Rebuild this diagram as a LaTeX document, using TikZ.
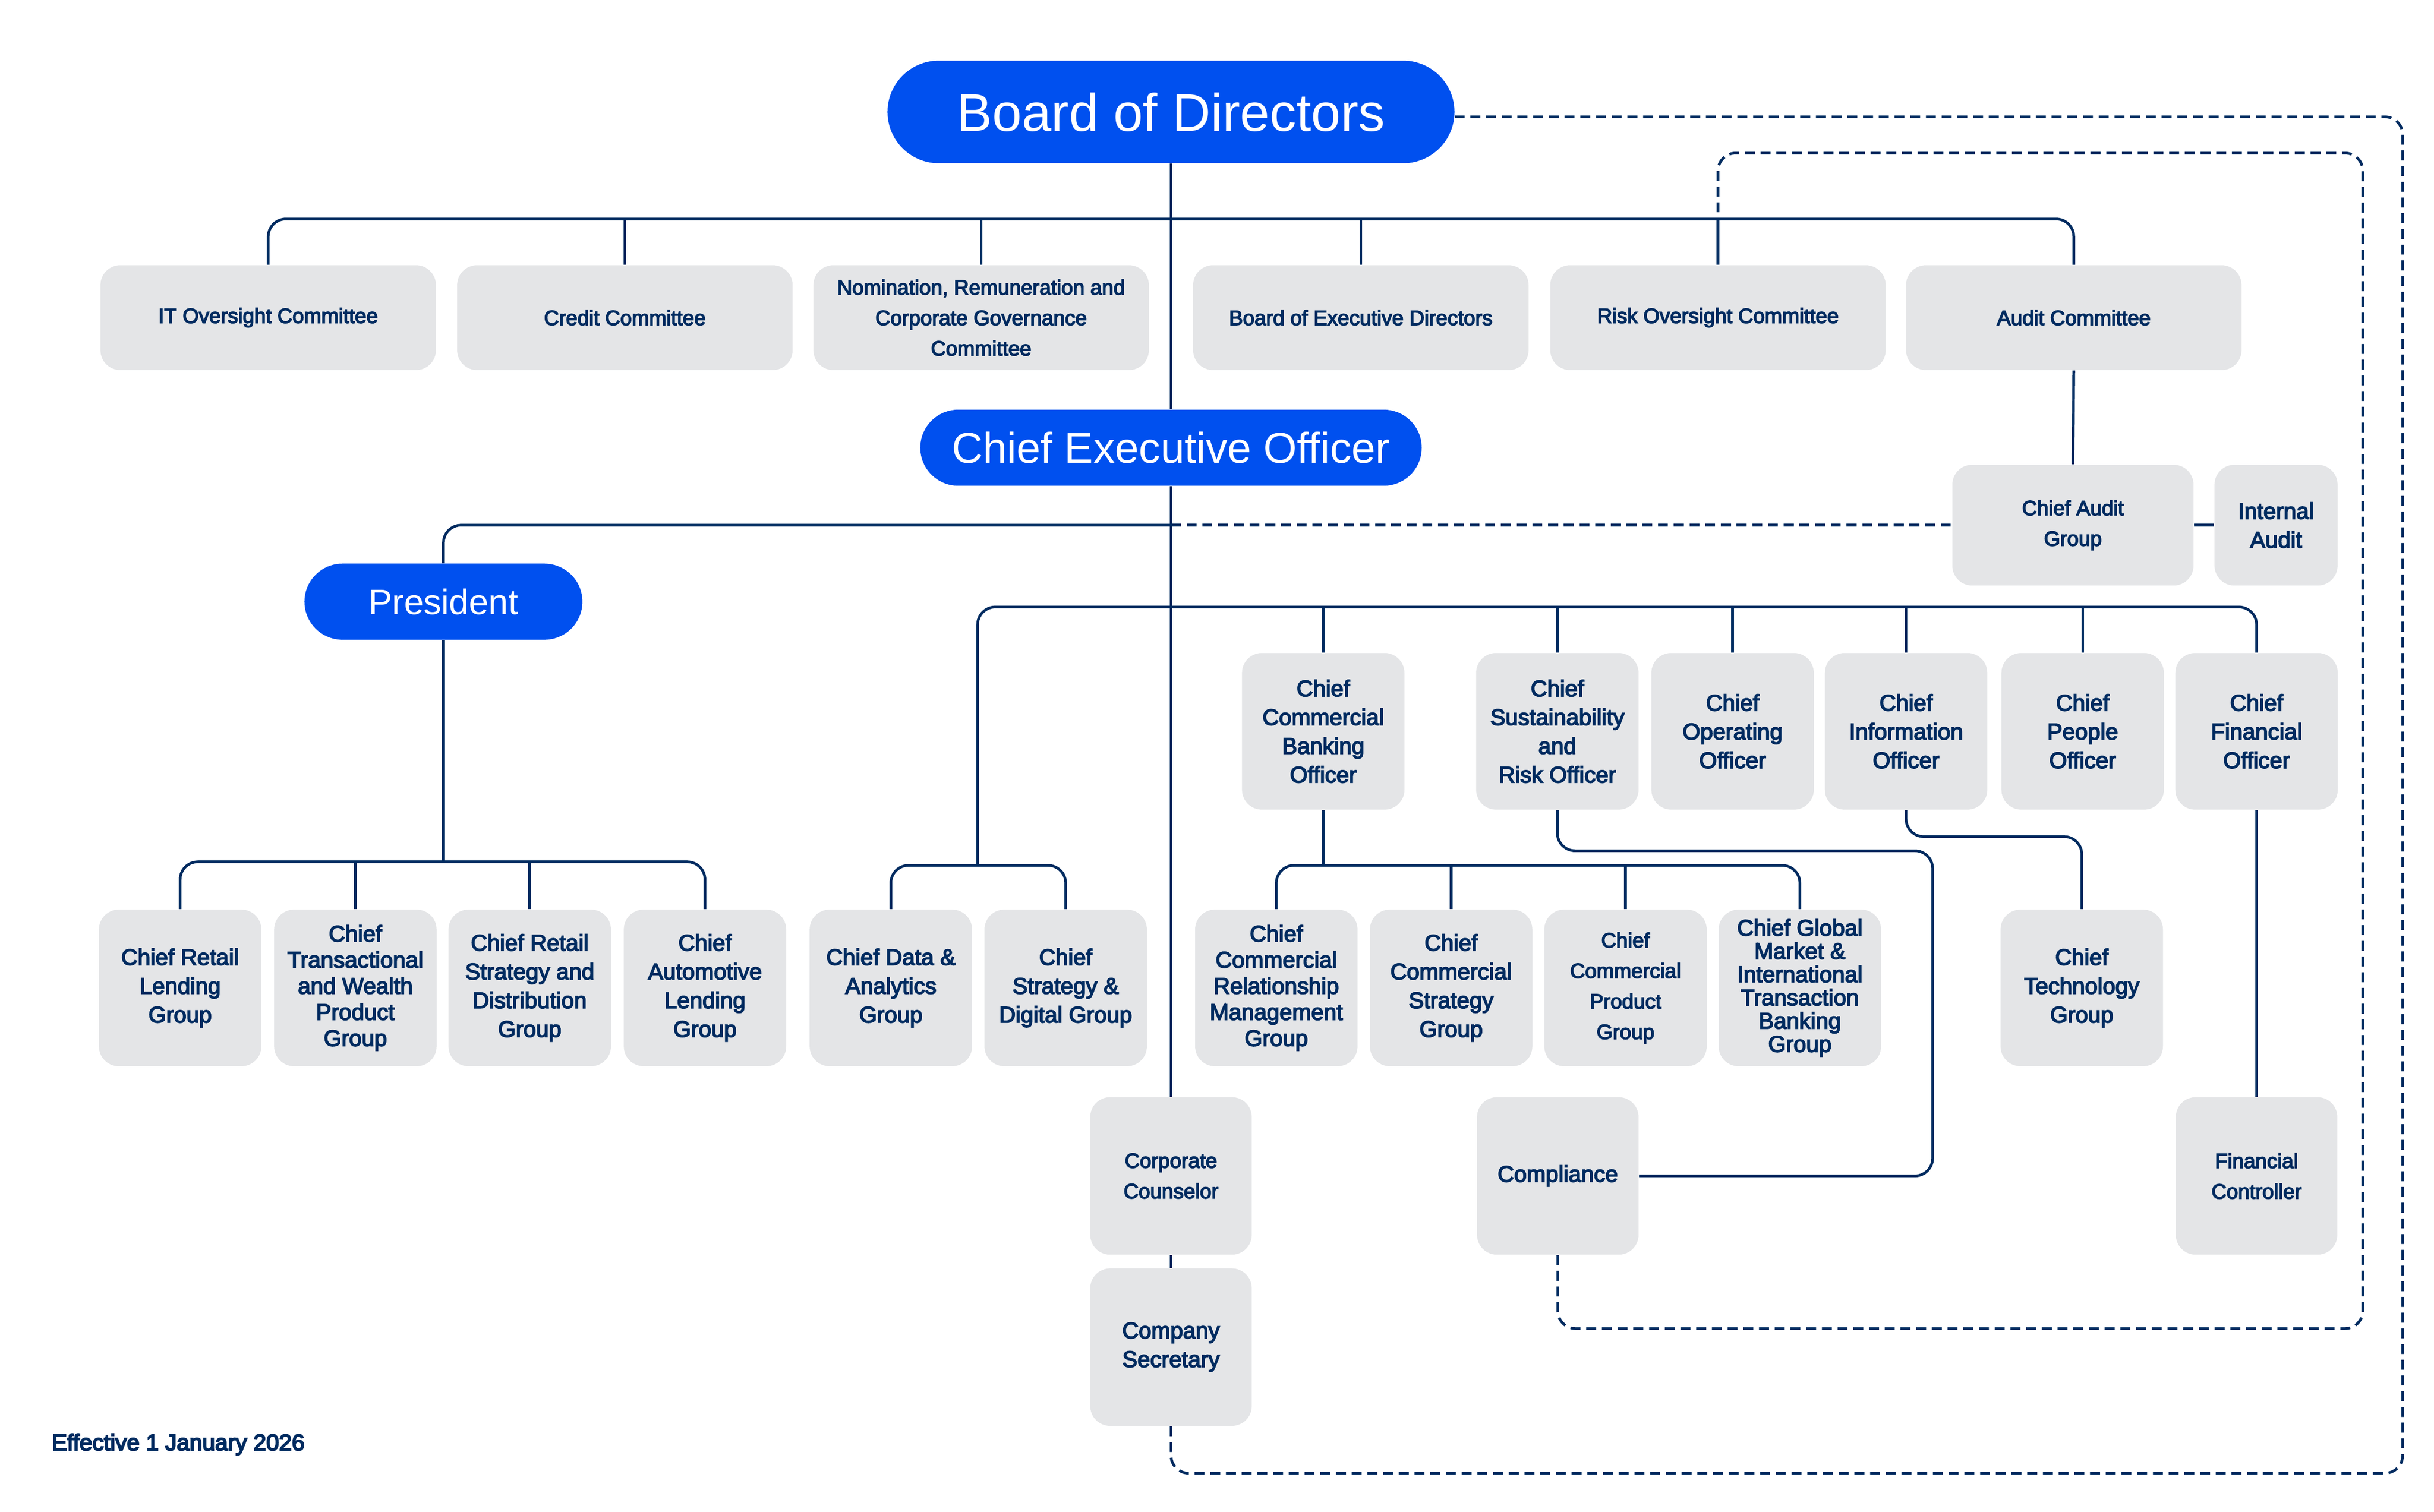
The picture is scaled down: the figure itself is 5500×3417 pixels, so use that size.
\documentclass[tikz,border=0pt]{standalone}
\usepackage{fontspec}
\setmainfont{Liberation Sans}
\newfontfamily\medfont[FakeBold=4]{Liberation Sans}
\newfontfamily\heavyfont[FakeBold=5]{Liberation Sans}
\usetikzlibrary{calc}
\definecolor{navy}{RGB}{0,43,96}
\definecolor{bblue}{RGB}{0,80,239}
\definecolor{boxgray}{RGB}{228,229,231}
\tikzset{
  conn/.style={draw=navy, line width=1.2pt, rounded corners=8pt},
  dashconn/.style={conn, dash pattern=on 4.5pt off 2.6pt},
  pill/.style={fill=bblue, text=white, align=center, inner sep=0pt},
  gbox/.style={fill=boxgray, text=navy, rounded corners=9pt, align=center, inner sep=0pt,
    font=\medfont\fontsize{10.3}{13}\selectfont},
  sbox/.style={gbox, font=\medfont\fontsize{9.4}{13.8}\selectfont},
  comm/.style={sbox, minimum width=151.6pt, minimum height=47.4pt},
  exec/.style={gbox, minimum width=73.4pt, minimum height=70.8pt},
  lowbox/.style={minimum width=73pt, minimum height=71.2pt},
}
\begin{document}
\begin{tikzpicture}[x=0.2pt,y=-0.2pt]
\useasboundingbox (0,0) rectangle (5500,3417);

% blue pills
\node[pill, minimum width=256.2pt, minimum height=46.4pt, rounded corners=23.2pt,
  font=\fontsize{24}{28}\selectfont] (board) at (2646,253) {Board of Directors};
\node[pill, minimum width=226.6pt, minimum height=34.4pt, rounded corners=17.2pt,
  font=\fontsize{19.5}{23}\selectfont] (ceo) at (2646,1012) {Chief Executive Officer};
\node[pill, minimum width=125.6pt, minimum height=34.4pt, rounded corners=17.2pt,
  font=\fontsize{16}{19}\selectfont] (pres) at (1002,1360) {President};

% committees
\node[comm] (itc) at (606,718) {IT Oversight Committee};
\node[comm] (cc) at (1412,718) {Credit Committee};
\node[comm] (nrc) at (2217,718) {Nomination, Remuneration and\\Corporate Governance\\Committee};
\node[comm] (bed) at (3075,718) {Board of Executive Directors};
\node[comm] (roc) at (3882,718) {Risk Oversight Committee};
\node[comm] (ac) at (4686,718) {Audit Committee};

% audit
\node[sbox, minimum width=109pt, minimum height=54.6pt] (cag) at (4684,1187) {Chief Audit\\Group};
\node[gbox, minimum width=55.6pt, minimum height=54.6pt] (ia) at (5143,1187) {Internal\\Audit};

% executive row
\node[exec] (ccbo) at (2990,1653) {Chief\\Commercial\\Banking\\Officer};
\node[exec] (csro) at (3519,1653) {Chief\\Sustainability\\and\\Risk Officer};
\node[exec] (coo) at (3915,1653) {Chief\\Operating\\Officer};
\node[exec] (cio) at (4307,1653) {Chief\\Information\\Officer};
\node[exec] (cpo) at (4706,1653) {Chief\\People\\Officer};
\node[exec] (cfo) at (5099,1653) {Chief\\Financial\\Officer};

% bottom row
\node[exec] (crlg) at (407,2233) {Chief Retail\\Lending\\Group};
\node[exec, font=\medfont\fontsize{10.3}{11.8}\selectfont] (ctwp) at (803,2233) {Chief\\Transactional\\and Wealth\\Product\\Group};
\node[exec] (crsd) at (1197,2233) {Chief Retail\\Strategy and\\Distribution\\Group};
\node[exec] (cald) at (1593,2233) {Chief\\Automotive\\Lending\\Group};
\node[exec] (cdag) at (2013,2233) {Chief Data \&\\Analytics\\Group};
\node[exec] (csdg) at (2408,2233) {Chief\\Strategy \&\\Digital Group};
\node[exec, font=\medfont\fontsize{10.3}{11.8}\selectfont] (ccrmg) at (2884,2233) {Chief\\Commercial\\Relationship\\Management\\Group};
\node[exec] (ccsg) at (3279,2233) {Chief\\Commercial\\Strategy\\Group};
\node[exec, font=\medfont\fontsize{9.4}{13.8}\selectfont] (ccpg) at (3673,2233) {Chief\\Commercial\\Product\\Group};
\node[exec, font=\medfont\fontsize{10.3}{10.5}\selectfont] (cgm) at (4067,2233) {Chief Global\\Market \&\\International\\Transaction\\Banking\\Group};
\node[exec] (ctg) at (4704,2233) {Chief\\Technology\\Group};

% lower boxes
\node[sbox, lowbox] (corpc) at (2646,2658) {Corporate\\Counselor};
\node[gbox, lowbox] (compl) at (3520,2658) {Compliance};
\node[sbox, lowbox] (fc) at (5099,2658) {Financial\\Controller};
\node[gbox, lowbox] (compsec) at (2646,3045) {Company\\Secretary};

% footnote
\node[anchor=west, inner sep=0pt, text=navy, font=\heavyfont\fontsize{10.4}{12}\selectfont] (eff) at (116,3265) {Effective 1 January 2026};

% helper coordinates
\coordinate (bar) at (0,495);
\coordinate (mvA) at (2646,1187);
\coordinate (rbar) at (0,1948);
\coordinate (dbar) at (0,1956);
\coordinate (cbar) at (0,1372);
\coordinate (dj) at (2209,1956);
\coordinate (cmbar) at (0,1956);
\coordinate (ctgbar) at (0,1891);
\coordinate (csrA) at (4367,1923);
\coordinate (inA) at (5339,346);
\coordinate (inB) at (5339,3003);
\coordinate (outA) at (5429,264);
\coordinate (outB) at (5429,3330);

% main vertical
\draw[conn] (board.south) -- (ceo.north);
\draw[conn] (ceo.south) -- (corpc.north);
\draw[conn] (corpc.south) -- (compsec.north);

% committees bar
\draw[conn] (itc.north) -- (itc.north |- bar) -- (ac.north |- bar) -- (ac.north);
\foreach \n in {cc,nrc,bed,roc} \draw[conn] (\n.north) -- (\n.north |- bar);

% audit
\draw[conn] (ac.south) -- (cag.north);
\draw[conn] (cag.east) -- (ia.west);
\draw[dashconn] (mvA) -- (cag.west);

% president
\draw[conn] (mvA) -- (pres.north |- mvA) -- (pres.north);
\draw[conn] (pres.south) -- (pres.south |- rbar);
\draw[conn] (crlg.north) -- (crlg.north |- rbar) -- (cald.north |- rbar) -- (cald.north);
\foreach \n in {ctwp,crsd} \draw[conn] (\n.north) -- (\n.north |- rbar);

% data / strategy and c-suite bar
\draw[conn] (cdag.north) -- (cdag.north |- dbar) -- (csdg.north |- dbar) -- (csdg.north);
\draw[conn] (dj) -- (dj |- cbar) -- (cfo.north |- cbar) -- (cfo.north);
\foreach \n in {ccbo,csro,coo,cio,cpo} \draw[conn] (\n.north) -- (\n.north |- cbar);

% commercial
\draw[conn] (ccbo.south) -- (ccbo.south |- cmbar);
\draw[conn] (ccrmg.north) -- (ccrmg.north |- cmbar) -- (cgm.north |- cmbar) -- (cgm.north);
\foreach \n in {ccsg,ccpg} \draw[conn] (\n.north) -- (\n.north |- cmbar);

% cio -> ctg, cfo -> fc
\draw[conn] (cio.south) -- (cio.south |- ctgbar) -- (ctg.north |- ctgbar) -- (ctg.north);
\draw[conn] (cfo.south) -- (fc.north);

% csro -> compliance
\draw[conn] (csro.south) -- (csro.south |- csrA) -- (csrA) -- (csrA |- compl.east) -- (compl.east);

% dashed reporting lines
\draw[dashconn] (compl.south) -- (compl.south |- inB) -- (inB) -- (inA) -- (roc.north |- inA) -- (roc.north |- bar);
\draw[dashconn] (compsec.south) -- (compsec.south |- outB) -- (outB) -- (outA) -- (board.east |- outA);
\end{tikzpicture}
\end{document}
